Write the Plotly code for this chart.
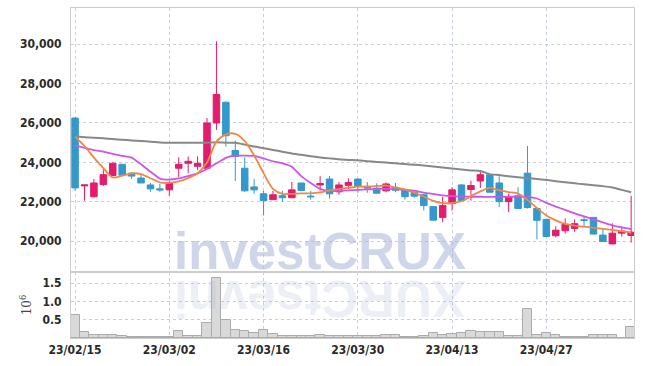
import plotly.graph_objects as go

dates = ["2023-02-15","2023-02-16","2023-02-17","2023-02-20","2023-02-21","2023-02-22","2023-02-23","2023-02-24","2023-02-27","2023-02-28",
         "2023-03-02","2023-03-03","2023-03-06","2023-03-07","2023-03-08","2023-03-09","2023-03-10","2023-03-13","2023-03-14","2023-03-15",
         "2023-03-16","2023-03-17","2023-03-20","2023-03-21","2023-03-22","2023-03-23","2023-03-24","2023-03-27","2023-03-28","2023-03-29",
         "2023-03-30","2023-03-31","2023-04-03","2023-04-04","2023-04-05","2023-04-06","2023-04-07","2023-04-10","2023-04-11","2023-04-12",
         "2023-04-13","2023-04-14","2023-04-17","2023-04-18","2023-04-19","2023-04-20","2023-04-21","2023-04-24","2023-04-25","2023-04-26",
         "2023-04-27","2023-04-28","2023-05-02","2023-05-03","2023-05-04","2023-05-08","2023-05-09","2023-05-10","2023-05-11","2023-05-12"]

open_ = [26250,22800,22250,22870,23330,23900,23450,23200,22850,22650,
         22600,23700,23950,23800,23700,26000,27050,24600,23700,22750,
         22400,22100,22300,22200,22950,22280,22850,23150,22500,22830,
         23150,22750,22680,22550,22730,22570,22480,22350,21750,21200,
         21900,22850,22620,23050,23370,22950,22000,22300,23450,21650,
         21100,20270,20520,20640,21080,21200,20300,19850,20400,20280]
high = [26300,22850,23150,23650,24000,23900,23500,23400,22950,22900,
        23050,24250,24300,24300,26250,30150,27100,25100,24250,23150,
        22550,22550,22550,23000,22950,22550,23300,23300,23000,23180,
        23150,23000,22930,22980,22950,22600,22550,22400,21750,22250,
        22730,22900,23070,23600,23370,23300,22400,22730,24830,21700,
        21100,20750,21150,21100,21250,21200,20600,20900,20750,22300]
low = [22550,22050,22200,22800,23300,23350,23150,22950,22500,22500,
       22300,23250,23450,23600,23650,25650,24800,23050,22500,22400,
       21300,22100,22000,22180,22550,22100,22550,22150,22350,22650,
       22450,22450,22430,22480,22480,22100,22200,21550,21050,20950,
       21550,22050,22050,22700,22480,21730,21480,21650,21650,20080,
       20200,20180,20380,20470,20700,20350,19950,19830,20220,19920]
close = [22700,22850,22950,23370,23950,23350,23300,22950,22650,22600,
         22950,23900,24050,23950,26000,27450,25350,24300,22550,22600,
         22050,22350,22200,22600,22570,22250,22920,22400,22850,22980,
         22780,22700,22430,22900,22580,22250,22280,21800,21060,21800,
         22600,22050,22820,23370,22480,22000,22250,21650,21700,21050,
         20230,20550,20850,20880,21050,20350,19970,20400,20500,20450]

ma_short = [25300,24830,24240,23710,23230,23320,23440,23400,23190,22980,
            22950,23030,23200,23440,23990,25050,25420,25450,25080,24350,
            23450,22650,22400,22400,22420,22420,22470,22580,22640,22700,
            22760,22770,22790,22820,22720,22630,22450,22260,22040,21930,
            21930,22020,22280,22520,22700,22580,22490,22410,22080,21680,
            21300,21050,20870,20780,20730,20670,20620,20570,20500,20420]
ma_mid = [24860,24740,24620,24540,24430,24330,24240,23900,23520,23170,
          23120,23180,23300,23440,23660,23950,24230,24340,24340,24330,
          24200,24050,23950,23780,23300,22950,22650,22530,22550,22570,
          22600,22620,22640,22650,22640,22600,22560,22460,22390,22320,
          22280,22260,22250,22250,22240,22250,22250,22250,22240,22160,
          21940,21750,21580,21400,21250,21100,20950,20800,20690,20600]
ma_long = [25320,25280,25250,25220,25180,25150,25110,25080,25050,25010,
           24990,24990,24990,24990,25000,25020,25000,24990,24900,24800,
           24720,24630,24540,24450,24380,24310,24250,24200,24150,24120,
           24100,24060,24020,23990,23950,23910,23880,23840,23790,23740,
           23680,23630,23590,23560,23400,23350,23290,23240,23200,23150,
           23100,23040,22990,22930,22880,22840,22790,22720,22600,22480]

volume = [620000,175000,90000,90000,90000,55000,30000,30000,30000,30000,
          30000,200000,60000,60000,400000,1650000,480000,230000,200000,150000,
          230000,120000,60000,60000,60000,60000,90000,65000,65000,65000,
          65000,65000,65000,90000,90000,40000,40000,65000,140000,90000,
          110000,140000,190000,175000,175000,175000,65000,65000,780000,90000,
          150000,90000,30000,30000,30000,90000,90000,90000,10000,300000]

x_tick_dates = ["2023-02-15","2023-03-02","2023-03-16","2023-03-30","2023-04-13","2023-04-27"]
x_tick_text = ["23/02/15","23/03/02","23/03/16","23/03/30","23/04/13","23/04/27"]
price_ticks = [20000,22000,24000,26000,28000,30000]
vol_ticks = [500000,1000000,1500000]
vol_tick_text = ["0.5","1.0","1.5"]

RED = "#e31c6b"
BLUE = "#3399cc"
GRID = "#c9cde0"
COND = "DejaVu Sans Condensed, Liberation Sans Narrow, Liberation Sans, sans-serif"
TICKFONT = dict(family=COND, size=12, color="#2a2a2a", weight="bold")
WM = "Liberation Sans, Arial, sans-serif"

fig = go.Figure()

fig.add_trace(go.Bar(x=dates, y=volume, xaxis="x", yaxis="y2", width=1.0,
                     marker=dict(color="#d9d9d9", line=dict(color="#ababab", width=1)),
                     showlegend=False, hoverinfo="skip"))

fig.add_trace(go.Scatter(x=dates, y=ma_long, mode="lines", yaxis="y",
                         line=dict(color="#888888", width=2, shape="spline", smoothing=0.6),
                         showlegend=False, hoverinfo="skip"))
fig.add_trace(go.Scatter(x=dates, y=ma_mid, mode="lines", yaxis="y",
                         line=dict(color="#cc55ee", width=1.8, shape="spline", smoothing=0.4),
                         showlegend=False, hoverinfo="skip"))
fig.add_trace(go.Scatter(x=dates, y=ma_short, mode="lines", yaxis="y",
                         line=dict(color="#ee8844", width=1.8, shape="spline", smoothing=0.8),
                         showlegend=False, hoverinfo="skip"))

fig.add_trace(go.Candlestick(x=dates, open=open_, high=high, low=low, close=close,
                             xaxis="x", yaxis="y", whiskerwidth=0,
                             increasing=dict(line=dict(color=RED, width=1), fillcolor=RED),
                             decreasing=dict(line=dict(color=BLUE, width=1), fillcolor=BLUE),
                             showlegend=False))

fig.add_annotation(text="investCRUX", x=0.442, y=0.17, xref="paper", yref="paper",
                   xanchor="center", yanchor="bottom", showarrow=False,
                   font=dict(family=WM, size=51, weight="bold", color="rgba(170,180,215,0.55)"))
fig.add_annotation(text="XURCtsevni", x=0.442, y=0.21, xref="paper", yref="paper",
                   xanchor="center", yanchor="top", showarrow=False, textangle=180,
                   font=dict(family=WM, size=51, weight="bold", color="rgba(170,180,215,0.22)"))

fig.update_layout(
    width=645, height=366,
    margin=dict(l=71, r=11, t=8, b=28),
    paper_bgcolor="white", plot_bgcolor="white",
    showlegend=False,
    bargap=0,
    boxgap=0.31, boxgroupgap=0,
    xaxis=dict(type="category", anchor="y2", range=[-0.43, 59.3],
               tickvals=x_tick_dates, ticktext=x_tick_text, tickangle=0,
               showgrid=True, gridcolor=GRID, griddash="dot", gridwidth=1,
               showline=True, linecolor="#cccccc", linewidth=1, mirror="all",
               ticks="", tickfont=TICKFONT, rangeslider=dict(visible=False),
               ticklabelstandoff=1),
    yaxis=dict(domain=[0.2, 1.0], range=[18424, 31845], tickvals=price_ticks,
               tickformat=",d", showgrid=True, gridcolor=GRID, griddash="dot",
               zeroline=False, showline=True, linecolor="#cccccc", linewidth=1, mirror=True,
               ticks="", tickfont=TICKFONT, ticklabelstandoff=6),
    yaxis2=dict(domain=[0.0, 0.2], range=[0, 1800000], tickvals=vol_ticks, ticktext=vol_tick_text,
                showgrid=True, gridcolor=GRID, griddash="dot",
                zeroline=False, showline=True, linecolor="#cccccc", linewidth=1, mirror=True,
                ticks="", tickfont=TICKFONT, ticklabelstandoff=6,
                title=dict(text="10<sup>6</sup>", font=dict(family="DejaVu Serif", size=12, color="#444444"), standoff=8)),
)

fig.write_html("out.html", config={"displayModeBar": False},
               post_script="document.body.style.margin='0';")
